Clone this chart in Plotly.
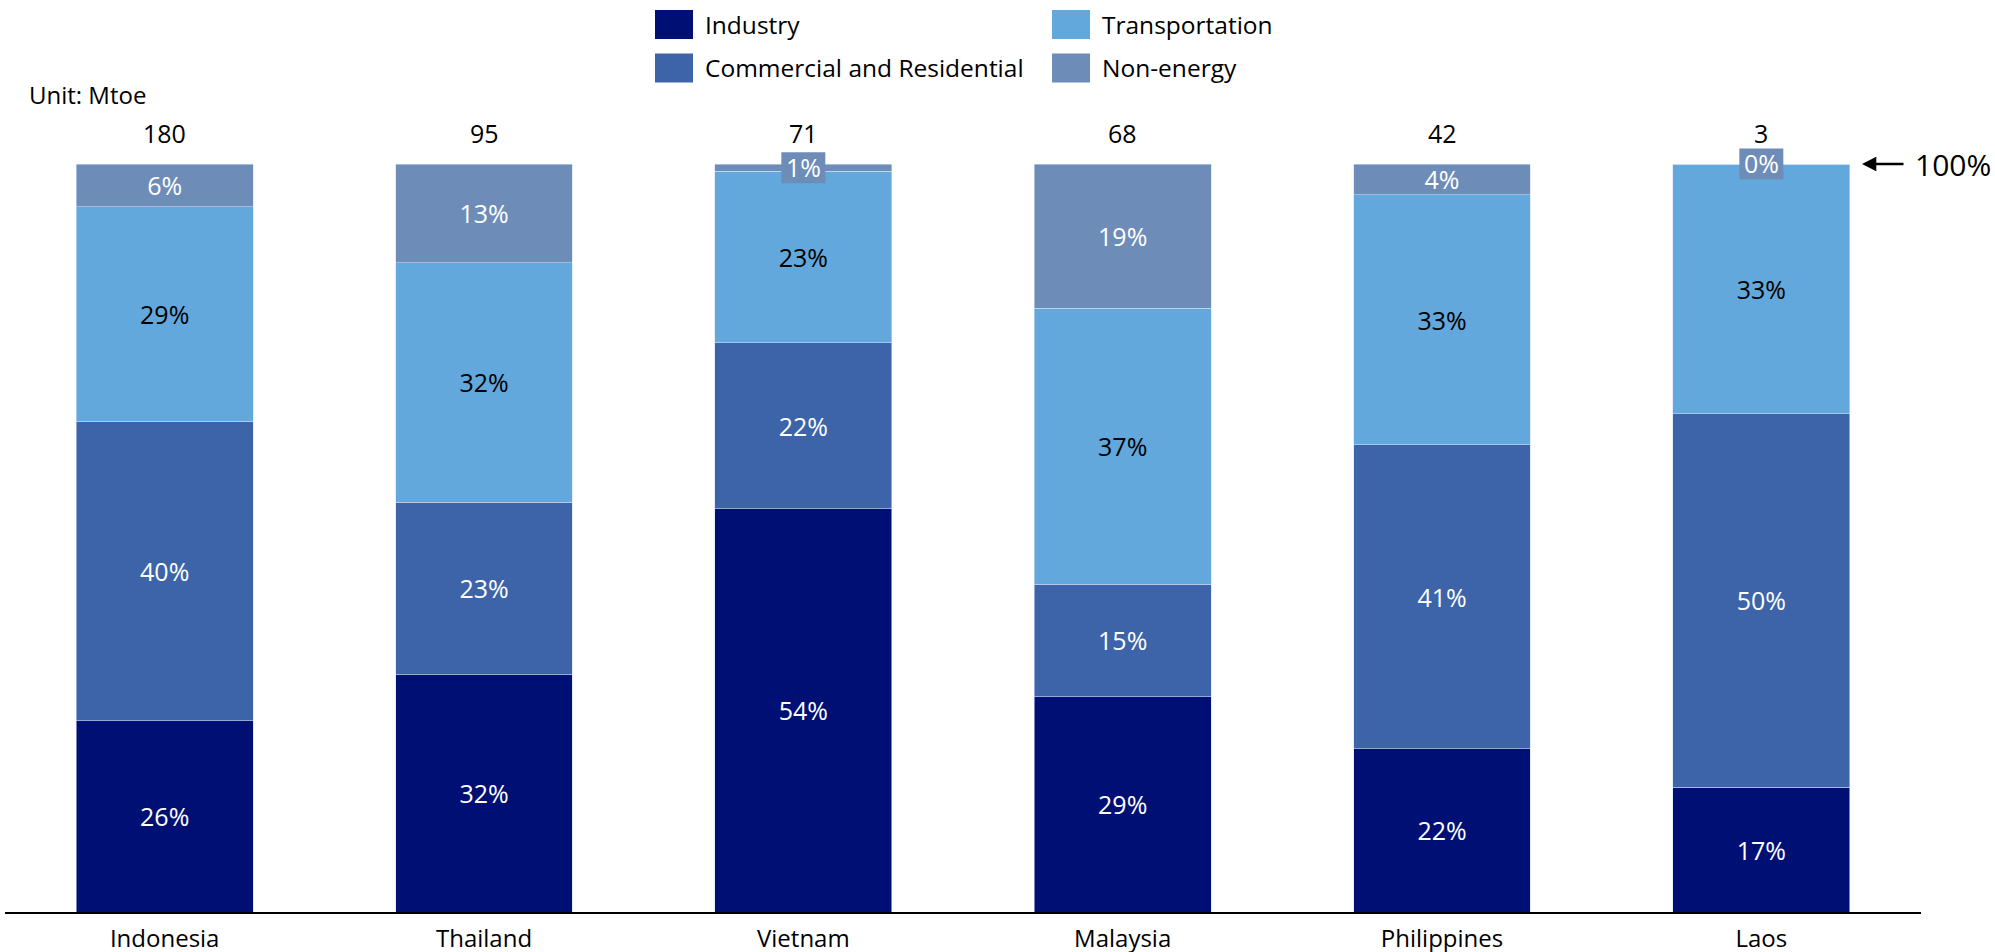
import plotly.graph_objects as go

# Final energy consumption by sector, share of each country's total (%)
countries = ["Indonesia", "Thailand", "Vietnam", "Malaysia", "Philippines", "Laos"]
totals_mtoe = [180, 95, 71, 68, 42, 3]

industry = [25.6, 31.7, 53.9, 28.8, 21.8, 16.7]
commercial_residential = [40.0, 23.1, 22.2, 15.0, 40.7, 49.9]
transportation = [28.7, 32.0, 22.9, 36.9, 33.4, 33.4]
non_energy = [5.7, 13.2, 1.0, 19.3, 4.1, 0.0]

sector_names = ["Industry", "Commercial and Residential", "Transportation", "Non-energy"]
sector_values = [industry, commercial_residential, transportation, non_energy]
sector_colors = ["#000F73", "#3D64A8", "#63A8DC", "#6E8CB8"]
label_colors = ["white", "white", "black", "white"]

FONT = "Open Sans"
W, H = 1995, 952
M_L, M_R, M_T, M_B = 5, 74, 164, 40
PLOT_W = W - M_L - M_R
PLOT_H = H - M_T - M_B
BAR_GAP = 0.446


def paper_x(px):
    return (px - M_L) / PLOT_W


def paper_y(py):
    return (H - M_B - py) / PLOT_H


SMALL = 3.0  # segments too thin for an inside label get a boxed label
BOX_HALF_W = 22 / (PLOT_W / len(countries))  # in category-width units
BOX_HALF_H = 15.5 / PLOT_H                   # in paper units

fig = go.Figure()
for name, vals, color, tcolor in zip(sector_names, sector_values, sector_colors, label_colors):
    texts = [f"{v:.0f}%" if v >= SMALL else "" for v in vals]
    fig.add_trace(go.Bar(
        name=name,
        x=countries,
        y=vals,
        marker=dict(color=color, line=dict(color="rgba(210,225,245,0.7)", width=0.8)),
        text=texts,
        textposition="inside",
        insidetextanchor="middle",
        textangle=0,
        constraintext="none",
        textfont=dict(family=FONT, size=25, color=tcolor),
        hoverinfo="skip",
    ))

annotations = []
shapes = []

# boxed labels for the thin top segments
for i, c in enumerate(countries):
    v = non_energy[i]
    if v < SMALL:
        mid = industry[i] + commercial_residential[i] + transportation[i] + v / 2
        mid_paper = mid / 100.0
        shapes.append(dict(
            type="rect", xref="x", yref="paper",
            x0=c, x1=c, x0shift=-BOX_HALF_W, x1shift=BOX_HALF_W,
            y0=mid_paper - BOX_HALF_H, y1=mid_paper + BOX_HALF_H,
            fillcolor=sector_colors[3], line=dict(width=0), layer="above",
        ))
        annotations.append(dict(
            x=c, y=mid, xref="x", yref="y",
            text=f"{v:.0f}%", showarrow=False,
            font=dict(family=FONT, size=25, color="white"),
            xanchor="center", yanchor="middle", yshift=1,
        ))

# totals above bars
for c, t in zip(countries, totals_mtoe):
    annotations.append(dict(
        x=c, y=100, xref="x", yref="y", text=str(t), showarrow=False,
        font=dict(family=FONT, size=25, color="black"),
        xanchor="center", yanchor="middle", yshift=31,
    ))

# unit note
annotations.append(dict(
    x=paper_x(27), y=paper_y(95), xref="paper", yref="paper",
    text="Unit: Mtoe", showarrow=False,
    font=dict(family=FONT, size=24, color="black"),
    xanchor="left", yanchor="middle",
))

# 100% marker
annotations.append(dict(
    x=paper_x(1862), y=100, xref="paper", yref="y",
    text="100%", showarrow=True, ax=91, ay=0,
    arrowhead=2, arrowsize=1.1, arrowwidth=2.6, arrowcolor="black",
    startstandoff=10,
    font=dict(family=FONT, size=30, color="black"),
))

# legend in two columns
legend_slots = [(655, 24.5), (655, 68), (1052, 24.5), (1052, 68)]
for name, color, (lx, ly) in zip(sector_names, sector_colors, legend_slots):
    shapes.append(dict(
        type="rect", xref="paper", yref="paper",
        x0=paper_x(lx), x1=paper_x(lx + 38),
        y0=paper_y(ly + 14.5), y1=paper_y(ly - 14.5),
        fillcolor=color, line=dict(width=0),
    ))
    annotations.append(dict(
        x=paper_x(lx + 48), y=paper_y(ly), xref="paper", yref="paper",
        text=name, showarrow=False,
        font=dict(family=FONT, size=24.5, color="black"),
        xanchor="left", yanchor="middle",
    ))

fig.update_layout(
    barmode="stack",
    bargap=BAR_GAP,
    width=W, height=H,
    margin=dict(l=M_L, r=M_R, t=M_T, b=M_B, pad=0, autoexpand=False),
    paper_bgcolor="white",
    plot_bgcolor="white",
    showlegend=False,
    font=dict(family=FONT, size=24, color="black"),
    xaxis=dict(
        showline=True, linecolor="black", linewidth=1.5,
        ticks="", showgrid=False, zeroline=False,
        tickfont=dict(family=FONT, size=24, color="black"),
        ticklabelstandoff=4,
        automargin=False,
        fixedrange=True,
    ),
    yaxis=dict(
        range=[0, 100], visible=False, showgrid=False, zeroline=False,
        automargin=False,
        fixedrange=True,
    ),
    annotations=annotations,
    shapes=shapes,
)

fig.write_html("out.html")
